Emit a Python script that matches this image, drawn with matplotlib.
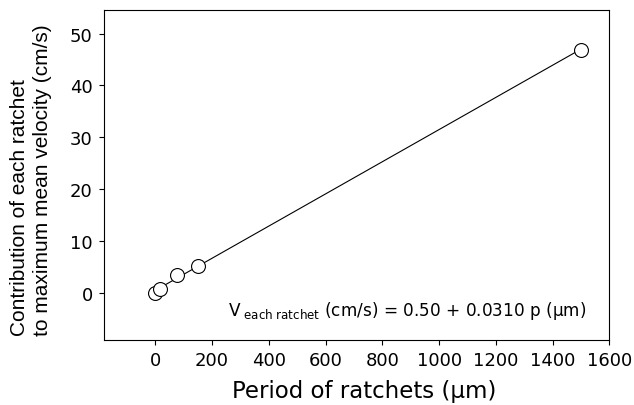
import matplotlib
matplotlib.use("Agg")
import matplotlib.pyplot as plt
import numpy as np

plt.rcParams['font.family'] = ['DejaVu Sans']
plt.rcParams['mathtext.fontset'] = 'dejavusans'

# Data
period_um = [0, 15, 76, 149, 1500]
velocity_cms = [0.0, 0.77, 3.5, 5.15, 46.8]
fit_intercept = 0.50
fit_slope = 0.0310
fit_range = [0, 1500]
x_ticks = [0, 200, 400, 600, 800, 1000, 1200, 1400, 1600]
y_ticks = [0, 10, 20, 30, 40, 50]

fig = plt.figure(figsize=(6.34, 4.06), dpi=100)
ax = fig.add_axes([0.1645, 0.1609, 0.7966, 0.8127])

fx = np.array(fit_range, dtype=float)
ax.plot(fx, fit_intercept + fit_slope * fx, color='black', lw=0.8, zorder=2)
ax.plot(period_um, velocity_cms, linestyle='none', marker='o', markersize=10,
        markerfacecolor='white', markeredgecolor='black', markeredgewidth=0.8, zorder=3)

ax.set_xlim(-180, 1600)
ax.set_ylim(-9, 54.6)
ax.set_xticks(x_ticks)
ax.set_yticks(y_ticks)
ax.tick_params(axis='both', direction='out', length=3.3, width=0.8, labelsize=13, top=False, right=False)
ax.tick_params(axis='x', pad=4.5)
ax.tick_params(axis='y', pad=5)
for s in ax.spines.values():
    s.set_linewidth(0.8)

ax.text(0.955, 0.075, r"V$_{\ \mathrm{each\ ratchet}}$ (cm/s) = 0.50 + 0.0310 p (μm)",
        transform=ax.transAxes, ha='right', va='baseline', fontsize=12.2)

fig.text(364.4 / 634, 1 - 398.3 / 406, "Period of ratchets (μm)", ha='center', va='baseline', fontsize=16.5)
fig.text(31 / 634, 1 - 180.5 / 406, "Contribution of each ratchet\nto maximum mean velocity (cm/s)",
         rotation=90, ha='center', va='center', multialignment='left', fontsize=15,
         linespacing=1.22, family=['Liberation Sans', 'DejaVu Sans'])

fig.savefig("out.png", dpi=100)
